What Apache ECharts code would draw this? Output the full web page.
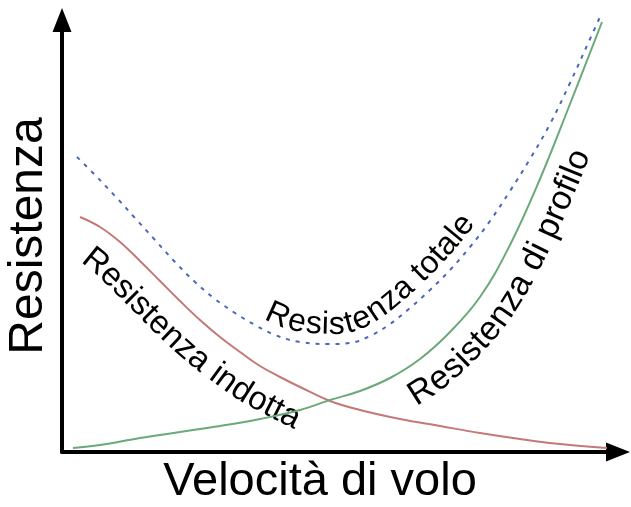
<!DOCTYPE html>
<html><head><meta charset="utf-8">
<script src="https://cdn.jsdelivr.net/npm/echarts@6/dist/echarts.min.js"></script>
<style>html,body{margin:0;padding:0;background:#fff}#c{width:631px;height:507px}</style>
</head><body><div id="c"></div>
<script>
// Flight speed (arbitrary units) and drag values
const inducedSpeed = [18, 38, 58, 78, 98, 118, 138, 158, 178, 198, 218, 238, 268, 298, 338, 378, 418, 458, 498, 545];
const inducedDrag  = [235, 225, 210, 191, 171, 151, 132, 115, 100, 86, 75, 65, 51, 42, 33, 26, 19, 13, 8, 4];

const profileSpeed = [11, 38, 78, 118, 158, 198, 238, 268, 298, 328, 358, 388, 418, 448, 478, 508, 540];
const profileDrag  = [4, 7, 14, 20, 26, 33, 42, 52, 61, 74, 93, 120, 155, 207, 273, 348, 430];

const totalSpeed = [15, 33, 53, 73, 93, 113, 133, 153, 173, 193, 213, 238, 268, 288, 308, 328, 348, 368, 388, 408, 428, 448, 468, 488, 508, 528, 538];
const totalDrag  = [295, 277, 256, 234, 212, 190, 170, 153, 139, 127, 117, 110, 108, 109, 116, 128, 144, 162, 182, 205, 231, 261, 293, 328, 369, 413, 435];

const labelInduced = 'Resistenza indotta';
const labelProfile = 'Resistenza di profilo';
const labelTotal = 'Resistenza totale';
const titleX = 'Velocità di volo';
const titleY = 'Resistenza';

const FONT = '"Liberation Sans", Arial, sans-serif';
const chart = echarts.init(document.getElementById('c'), null, {renderer: 'canvas'});
const zip = (xs, ys) => xs.map((x, i) => [x, ys[i]]);

const axisCommon = {
  type: 'value', min: 0,
  axisLine: {show: true, onZero: false, symbol: ['none', 'triangle'], symbolSize: [19, 24],
             lineStyle: {color: '#000', width: 4}},
  axisTick: {show: false}, axisLabel: {show: false}, splitLine: {show: false}
};

chart.setOption({
  animation: false,
  grid: {left: 62, right: 13, top: 20, bottom: 55},
  xAxis: Object.assign({}, axisCommon, {max: 556}),
  yAxis: Object.assign({}, axisCommon, {max: 432}),
  series: [
    {type: 'line', name: labelInduced, data: zip(inducedSpeed, inducedDrag), smooth: 0.4, symbol: 'none', clip: false,
     lineStyle: {color: '#c47878', width: 2}},
    {type: 'line', name: labelProfile, data: zip(profileSpeed, profileDrag), smooth: 0.4, symbol: 'none', clip: false,
     lineStyle: {color: '#6aa97a', width: 2}},
    {type: 'line', name: labelTotal, data: zip(totalSpeed, totalDrag), smooth: 0.4, symbol: 'none', clip: false,
     lineStyle: {color: '#4a68b8', width: 2, type: [4, 6]}}
  ]
});

function densify(pts) {
  const out = [];
  for (let i = 0; i < pts.length - 1; i++) {
    const p0 = pts[Math.max(0, i - 1)], p1 = pts[i], p2 = pts[i + 1], p3 = pts[Math.min(pts.length - 1, i + 2)];
    for (let k = 0; k < 12; k++) {
      const t = k / 12, t2 = t * t, t3 = t2 * t;
      const f = j => 0.5 * (2 * p1[j] + (-p0[j] + p2[j]) * t + (2 * p0[j] - 5 * p1[j] + 4 * p2[j] - p3[j]) * t2 + (-p0[j] + 3 * p1[j] - 3 * p2[j] + p3[j]) * t3);
      out.push([f(0), f(1)]);
    }
  }
  out.push(pts[pts.length - 1]);
  return out;
}
function tangents(pts) {
  return pts.map((p, i) => {
    const a = pts[Math.max(0, i - 2)], b = pts[Math.min(pts.length - 1, i + 2)];
    const dx = b[0] - a[0], dy = b[1] - a[1], L = Math.hypot(dx, dy) || 1;
    return [dx / L, dy / L];
  });
}
const measure = document.createElement('canvas').getContext('2d');
function curveText(xs, ys, text, startPx, d, size) {
  const px = xs.map((x, i) => chart.convertToPixel({gridIndex: 0}, [x, ys[i]]));
  const dense = densify(px);
  const tg = tangents(dense);
  let off = dense.map((p, i) => [p[0] + d * tg[i][1], p[1] - d * tg[i][0]]);
  const startIdx = Math.max(0, dense.findIndex(p => p[0] >= startPx));
  off = off.slice(startIdx);
  const arc = [0];
  for (let i = 1; i < off.length; i++) arc.push(arc[i - 1] + Math.hypot(off[i][0] - off[i - 1][0], off[i][1] - off[i - 1][1]));
  const at = s => {
    let i = 1;
    while (i < off.length - 1 && arc[i] < s) i++;
    const a = off[Math.max(0, i - 2)], b = off[Math.min(off.length - 1, i + 1)];
    const p0 = off[i - 1], p1 = off[i];
    const seg = arc[i] - arc[i - 1] || 1, t = (s - arc[i - 1]) / seg;
    return {p: [p0[0] + (p1[0] - p0[0]) * t, p0[1] + (p1[1] - p0[1]) * t], ang: Math.atan2(b[1] - a[1], b[0] - a[0])};
  };
  measure.font = size + 'px ' + FONT;
  const els = [];
  let s = 0;
  for (const ch of text) {
    const w = measure.measureText(ch).width;
    const r = at(s + w / 2);
    if (ch !== ' ') {
      els.push({type: 'text', x: r.p[0], y: r.p[1], rotation: -r.ang, silent: true,
        style: {text: ch, fontSize: size, fontFamily: FONT, fill: '#000', align: 'center', verticalAlign: 'middle'}});
    }
    s += w;
  }
  return els;
}

const graphics = [].concat(
  curveText(totalSpeed, totalDrag, labelTotal, 258, 19, 32),
  curveText(inducedSpeed, inducedDrag, labelInduced, 103, -31, 33),
  curveText(profileSpeed, profileDrag, labelProfile, 397, -28, 34),
  [
    {type: 'text', x: 29, y: 236, rotation: Math.PI / 2, silent: true,
     style: {text: titleY, fontSize: 48, fontFamily: FONT, fill: '#000', align: 'center', verticalAlign: 'middle'}},
    {type: 'text', x: 320, y: 482, silent: true,
     style: {text: titleX, fontSize: 47, fontFamily: FONT, fill: '#000', align: 'center', verticalAlign: 'middle'}}
  ]
);
chart.setOption({graphic: graphics});
</script></body></html>
